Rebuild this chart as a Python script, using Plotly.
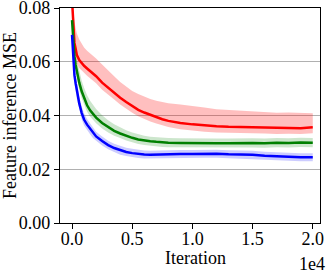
import plotly.graph_objects as go

iterations = [0, 100, 200, 300, 400, 600, 800, 1000, 1250, 1500, 1750, 2000, 2500, 3000,
              3500, 4000, 4500, 5000, 5500, 6000, 6500, 7000, 7500, 8000, 9000, 10000,
              11000, 12000, 13000, 14000, 15000, 16000, 17000, 18000, 19000, 20000]

red_mean = [0.0830, 0.0730, 0.0670, 0.0648, 0.0625, 0.0606, 0.0594, 0.0585, 0.0575, 0.0565,
            0.0557, 0.0546, 0.0522, 0.0503, 0.0485, 0.0466, 0.0450, 0.0434, 0.0421, 0.0411,
            0.0402, 0.0393, 0.0386, 0.0380, 0.0372, 0.0367, 0.0363, 0.0360, 0.0358, 0.0357,
            0.0356, 0.0355, 0.0353, 0.0354, 0.0353, 0.0356]
red_upper = [0.0850, 0.0790, 0.0750, 0.0725, 0.0705, 0.0683, 0.0667, 0.0653, 0.0641, 0.0632,
             0.0624, 0.0612, 0.0590, 0.0566, 0.0546, 0.0525, 0.0507, 0.0491, 0.0480, 0.0470,
             0.0461, 0.0455, 0.0450, 0.0446, 0.0441, 0.0436, 0.0430, 0.0423, 0.0420, 0.0418,
             0.0415, 0.0413, 0.0410, 0.0411, 0.0409, 0.0408]
red_lower = [0.0800, 0.0695, 0.0635, 0.0615, 0.0594, 0.0577, 0.0566, 0.0558, 0.0548, 0.0539,
             0.0531, 0.0520, 0.0496, 0.0478, 0.0460, 0.0441, 0.0425, 0.0410, 0.0397, 0.0387,
             0.0378, 0.0370, 0.0363, 0.0357, 0.0349, 0.0344, 0.0340, 0.0337, 0.0335, 0.0334,
             0.0334, 0.0333, 0.0331, 0.0332, 0.0331, 0.0334]

green_mean = [0.0755, 0.0680, 0.0620, 0.0588, 0.0565, 0.0522, 0.0490, 0.0465, 0.0438, 0.0419,
              0.0404, 0.0392, 0.0372, 0.0356, 0.0343, 0.0333, 0.0324, 0.0317, 0.0311, 0.0307,
              0.0304, 0.0302, 0.0300, 0.0299, 0.0298, 0.0297, 0.0298, 0.0297, 0.0297, 0.0298,
              0.0298, 0.0297, 0.0299, 0.0298, 0.0300, 0.0299]
green_upper = [0.0775, 0.0715, 0.0660, 0.0630, 0.0605, 0.0562, 0.0530, 0.0503, 0.0475, 0.0455,
               0.0438, 0.0424, 0.0401, 0.0382, 0.0367, 0.0355, 0.0345, 0.0337, 0.0330, 0.0325,
               0.0321, 0.0319, 0.0317, 0.0316, 0.0315, 0.0314, 0.0315, 0.0314, 0.0314, 0.0315,
               0.0315, 0.0314, 0.0316, 0.0315, 0.0317, 0.0316]
green_lower = [0.0735, 0.0650, 0.0590, 0.0560, 0.0538, 0.0495, 0.0464, 0.0440, 0.0414, 0.0396,
               0.0382, 0.0371, 0.0352, 0.0337, 0.0325, 0.0316, 0.0307, 0.0300, 0.0294, 0.0290,
               0.0287, 0.0285, 0.0283, 0.0282, 0.0281, 0.0280, 0.0281, 0.0280, 0.0280, 0.0281,
               0.0281, 0.0280, 0.0282, 0.0281, 0.0283, 0.0282]

blue_mean = [0.0700, 0.0610, 0.0550, 0.0520, 0.0490, 0.0445, 0.0410, 0.0385, 0.0366, 0.0350,
             0.0334, 0.0322, 0.0305, 0.0290, 0.0279, 0.0270, 0.0264, 0.0260, 0.0257, 0.0255,
             0.0254, 0.0255, 0.0256, 0.0256, 0.0257, 0.0257, 0.0258, 0.0258, 0.0256, 0.0255,
             0.0254, 0.0250, 0.0248, 0.0247, 0.0245, 0.0245]
blue_upper = [0.0720, 0.0635, 0.0578, 0.0548, 0.0517, 0.0470, 0.0434, 0.0407, 0.0387, 0.0370,
              0.0353, 0.0340, 0.0322, 0.0306, 0.0295, 0.0286, 0.0280, 0.0276, 0.0272, 0.0270,
              0.0269, 0.0270, 0.0271, 0.0271, 0.0272, 0.0272, 0.0273, 0.0273, 0.0271, 0.0270,
              0.0269, 0.0265, 0.0263, 0.0262, 0.0260, 0.0260]
blue_lower = [0.0680, 0.0585, 0.0522, 0.0492, 0.0463, 0.0420, 0.0386, 0.0363, 0.0345, 0.0330,
              0.0315, 0.0304, 0.0288, 0.0274, 0.0263, 0.0254, 0.0249, 0.0245, 0.0242, 0.0240,
              0.0239, 0.0240, 0.0241, 0.0241, 0.0242, 0.0242, 0.0243, 0.0243, 0.0241, 0.0240,
              0.0239, 0.0235, 0.0233, 0.0232, 0.0230, 0.0230]

x_tickvals = [0, 5000, 10000, 15000, 20000]
x_ticktext = ["0.0", "0.5", "1.0", "1.5", "2.0"]
y_tickvals = [0.00, 0.02, 0.04, 0.06, 0.08]
y_ticktext = ["0.00", "0.02", "0.04", "0.06", "0.08"]

series = [
    (red_mean, red_upper, red_lower, "rgb(255,0,0)", "rgba(255,0,0,0.25)"),
    (green_mean, green_upper, green_lower, "rgb(0,128,0)", "rgba(0,128,0,0.2)"),
    (blue_mean, blue_upper, blue_lower, "rgb(0,0,255)", "rgba(0,0,255,0.2)"),
]

fig = go.Figure()
for mean, up, lo, col, fillcol in series:
    fig.add_trace(go.Scatter(x=iterations + iterations[::-1], y=up + lo[::-1],
                             fill="toself", fillcolor=fillcol, line=dict(width=0),
                             mode="lines", hoverinfo="skip", showlegend=False))
    fig.add_trace(go.Scatter(x=iterations, y=mean, mode="lines",
                             line=dict(color=col, width=2.5), showlegend=False))

font = dict(family="Liberation Serif, Times New Roman, serif", size=18, color="black")

fig.update_layout(
    width=328, height=276,
    margin=dict(l=60, r=8, t=8, b=53, autoexpand=False),
    paper_bgcolor="white", plot_bgcolor="white",
    font=font,
    showlegend=False,
    xaxis=dict(range=[-1000, 20600], tickvals=x_tickvals, ticktext=x_ticktext,
               showgrid=False, zeroline=False, showline=True, linecolor="black",
               linewidth=1.3, mirror=True, ticks="outside", ticklen=5, tickcolor="black",
               automargin=False, ticklabeloverflow="allow", ticklabelstandoff=-6),
    yaxis=dict(range=[0, 0.08], tickvals=y_tickvals, ticktext=y_ticktext,
               showgrid=True, gridcolor="#b0b0b0", gridwidth=1, zeroline=False,
               showline=True, linecolor="black", linewidth=1.3, mirror=True,
               ticks="outside", ticklen=5, tickcolor="black",
               automargin=False, ticklabeloverflow="allow",
               title=dict(text="Feature inference MSE", standoff=2, font=font)),
    annotations=[
        dict(text="Iteration", xref="paper", yref="paper", x=0.523, y=-0.162,
             xanchor="center", yanchor="middle", showarrow=False, font=font),
        dict(text="1e4", xref="paper", yref="paper", x=1.025, y=-0.19,
             xanchor="right", yanchor="middle", showarrow=False, font=font),
    ],
)

fig.write_html("out.html", config={"displayModeBar": False},
               post_script="document.body.style.margin='0';document.body.style.overflow='hidden';")
